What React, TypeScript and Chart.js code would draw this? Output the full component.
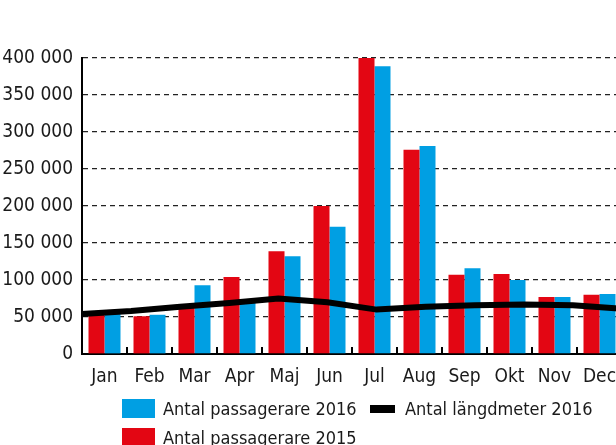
import React, { useEffect, useRef } from "react";
import { Chart, registerables } from "chart.js";
Chart.register(...registerables);

const months = ["Jan", "Feb", "Mar", "Apr", "Maj", "Jun", "Jul", "Aug", "Sep", "Okt", "Nov", "Dec"];
const passagerare2015 = [53000, 51000, 64000, 104000, 139000, 200000, 400000, 276000, 107000, 108000, 77000, 80000];
const passagerare2016 = [54000, 53000, 93000, 70000, 132000, 172000, 389000, 281000, 116000, 100000, 77000, 81000];
const langdmeter2016 = [54000, 58000, 64000, 69000, 75000, 70000, 60000, 64000, 66000, 67000, 66000, 61000];
const yMin = 0;
const yMax = 400000;
const yStep = 50000;

const legendItems = [
  { label: "Antal passagerare 2016", color: "#009FE3", kind: "box" },
  { label: "Antal längdmeter 2016", color: "#000000", kind: "line" },
  { label: "Antal passagerare 2015", color: "#E30613", kind: "box" },
];

const FONT = "'DejaVu Sans Condensed', 'DejaVu Sans', sans-serif";
const RED = "#E30613";
const BLUE = "#009FE3";
const TEXT = "#1a1a1a";

const fmt = (v: number) => String(v).replace(/\B(?=(\d{3})+(?!\d))/g, " ");

const innerTicks = {
  id: "innerTicks",
  afterDraw(chart: any) {
    const x = chart.scales.x;
    const { ctx } = chart;
    const bottom = chart.chartArea.bottom;
    ctx.save();
    ctx.strokeStyle = "#000";
    ctx.lineWidth = 2;
    for (let i = 1; i < months.length; i++) {
      const px = Math.round((x.getPixelForValue(i - 1) + x.getPixelForValue(i)) / 2);
      ctx.beginPath();
      ctx.moveTo(px, bottom);
      ctx.lineTo(px, bottom - 7);
      ctx.stroke();
    }
    ctx.restore();
  },
};

export default function App() {
  const ref = useRef<HTMLCanvasElement>(null);
  useEffect(() => {
    if (!ref.current) return;
    const chart = new Chart(ref.current, {
      type: "bar",
      data: {
        labels: months,
        datasets: [
          {
            type: "line",
            indexAxis: "x",
            label: "Antal längdmeter 2016",
            data: langdmeter2016,
            borderColor: "#000",
            borderWidth: 6,
            pointRadius: 0,
            tension: 0,
            xAxisID: "x2",
            yAxisID: "y",
          },
          {
            type: "bar",
            indexAxis: "x",
            label: "Antal passagerare 2015",
            data: passagerare2015,
            backgroundColor: RED,
            barPercentage: 1,
            categoryPercentage: 0.711,
            xAxisID: "x",
          },
          {
            type: "bar",
            indexAxis: "x",
            label: "Antal passagerare 2016",
            data: passagerare2016,
            backgroundColor: BLUE,
            barPercentage: 1,
            categoryPercentage: 0.711,
            xAxisID: "x",
          },
        ] as any,
      },
      options: {
        indexAxis: "y",
        responsive: false,
        animation: false,
        devicePixelRatio: 1,
        layout: { padding: { left: 0, top: 58, right: 18, bottom: 0 } },
        plugins: { legend: { display: false }, tooltip: { enabled: false } },
        scales: {
          x: {
            type: "category",
            offset: true,
            grid: { display: false, drawTicks: false, offset: true },
            border: { display: true, color: "#000", width: 2 },
            ticks: { color: TEXT, font: { family: FONT, size: 19 }, padding: 12, maxRotation: 0, autoSkip: false },
            afterFit: (s: any) => { s.height = 91; },
          },
          x2: {
            type: "category",
            labels: months,
            offset: false,
            display: false,
          },
          y: {
            type: "linear",
            offset: false,
            min: yMin,
            max: yMax,
            ticks: { stepSize: yStep, color: TEXT, font: { family: FONT, size: 19 }, padding: 9, callback: (v: any) => fmt(Number(v)) },
            grid: { color: "#222", lineWidth: 1.3, drawTicks: false, offset: false },
            border: { display: true, color: "#000", width: 2, dash: [5, 4] },
            afterFit: (s: any) => { s.width = 82; },
          },
        },
      } as any,
      plugins: [innerTicks],
    });
    return () => chart.destroy();
  }, []);

  return (
    <div style={{ position: "fixed", left: 0, top: 0, width: 616, height: 445, overflow: "hidden", background: "#fff", fontFamily: FONT }}>
      <canvas ref={ref} width={640} height={445} style={{ display: "block" }} />
      {legendItems.map((it, i) => {
        const pos = [
          { left: 122, top: 399 },
          { left: 370, top: 399 },
          { left: 122, top: 428 },
        ][i];
        return (
          <div key={it.label} style={{ position: "absolute", left: pos.left, top: pos.top, height: 19, display: "flex", alignItems: "center", whiteSpace: "nowrap" }}>
            {it.kind === "box" ? (
              <span style={{ display: "inline-block", width: 33, height: 19, background: it.color }} />
            ) : (
              <span style={{ display: "inline-block", width: 25, height: 8, background: it.color, marginRight: 2 }} />
            )}
            <span style={{ marginLeft: 8, fontSize: 18, color: TEXT, lineHeight: "19px" }}>{it.label}</span>
          </div>
        );
      })}
    </div>
  );
}
